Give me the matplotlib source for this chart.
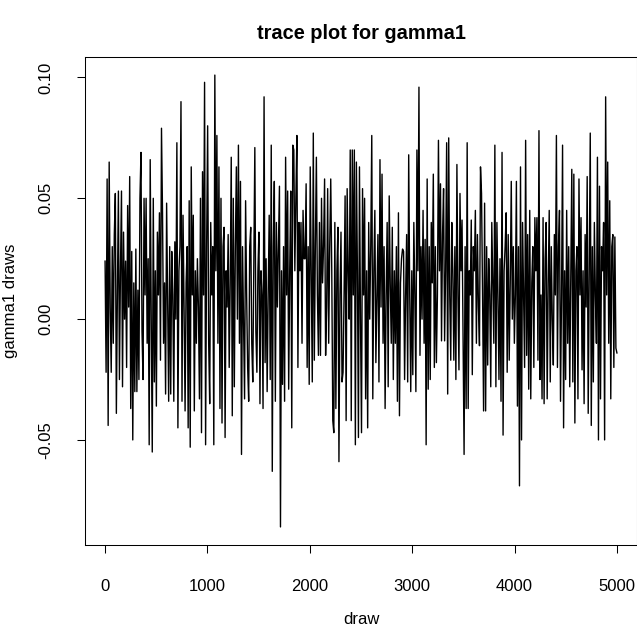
import numpy as np
import matplotlib
matplotlib.use('Agg')
import matplotlib.pyplot as plt

plt.rcParams['font.family'] = ['Liberation Sans', 'DejaVu Sans']

# gamma1 draws, one value per 10 draws (blocks of 100 draws per row)
gamma1 = [
    0.024, -0.022, 0.058, -0.044, 0.065, 0.005, -0.022, 0.030, -0.010, 0.035,
    0.052, -0.039, 0.010, 0.053, -0.025, 0.020, 0.053, -0.028, 0.036, 0.000,
    0.024, -0.020, 0.047, 0.005, 0.059, -0.037, 0.028, -0.050, 0.015, -0.030,
    0.029, -0.030, 0.012, -0.025, 0.050, 0.069, -0.005, -0.025, 0.050, 0.010,
    0.050, -0.010, 0.025, -0.052, 0.066, 0.000, -0.055, 0.050, -0.026, 0.020,
    -0.036, 0.036, 0.010, 0.044, -0.017, 0.079, 0.044, -0.010, 0.015, -0.031,
    0.048, 0.005, -0.034, 0.030, -0.031, 0.028, 0.010, -0.034, 0.032, 0.000,
    0.073, -0.045, 0.020, 0.030, 0.090, -0.034, 0.043, 0.005, -0.038, 0.015,
    0.030, -0.045, 0.049, -0.053, 0.063, 0.010, 0.043, -0.038, 0.020, -0.010,
    0.025, 0.005, -0.033, 0.050, -0.047, 0.061, 0.010, 0.098, -0.052, 0.030,
    0.080, -0.010, -0.035, 0.040, 0.010, 0.030, -0.052, 0.101, 0.020, 0.076,
    -0.010, 0.063, -0.037, 0.050, -0.043, 0.030, 0.038, -0.049, 0.020, 0.005,
    0.035, -0.020, 0.015, 0.067, -0.040, 0.050, -0.028, 0.030, 0.063, 0.000,
    0.072, -0.010, 0.057, -0.056, 0.030, 0.000, -0.033, 0.049, 0.010, -0.020,
    -0.034, 0.030, 0.038, -0.010, -0.026, 0.025, 0.071, -0.005, -0.022, 0.020,
    0.036, -0.035, 0.020, 0.010, -0.037, 0.092, -0.018, 0.025, -0.030, 0.010,
    0.043, -0.025, 0.072, -0.063, 0.030, 0.057, -0.034, 0.040, 0.005, 0.030,
    0.055, -0.086, 0.020, -0.027, 0.030, -0.034, 0.067, 0.010, 0.053, -0.029,
    0.020, 0.053, -0.045, 0.072, 0.070, 0.020, 0.050, 0.076, -0.020, 0.040,
    0.020, 0.040, -0.010, 0.045, 0.025, 0.025, 0.056, -0.020, 0.030, -0.027,
    0.063, 0.020, -0.026, 0.077, -0.017, 0.030, 0.067, 0.010, -0.015, 0.040,
    -0.015, 0.050, 0.015, 0.030, 0.058, -0.015, 0.005, 0.054, -0.010, 0.030,
    0.058, 0.020, -0.042, -0.047, 0.040, -0.037, 0.020, 0.038, -0.059, 0.010,
    0.036, -0.026, -0.022, 0.010, 0.051, -0.042, 0.054, 0.020, 0.000, 0.070,
    -0.042, 0.070, 0.010, 0.070, -0.052, 0.065, 0.020, -0.049, 0.063, 0.000,
    -0.047, 0.054, 0.010, 0.050, -0.033, 0.020, -0.045, 0.040, 0.000, 0.030,
    0.076, -0.033, 0.020, 0.045, -0.018, 0.010, 0.035, -0.026, 0.066, 0.005,
    0.060, -0.010, 0.030, -0.037, 0.010, 0.040, -0.028, 0.051, 0.015, -0.010,
    0.038, -0.025, 0.020, -0.010, 0.030, -0.034, 0.044, -0.040, 0.015, 0.025,
    0.029, 0.028, -0.025, 0.010, 0.035, -0.026, 0.068, 0.010, -0.030, 0.020,
    -0.023, 0.040, 0.010, -0.030, 0.070, 0.020, 0.096, -0.015, 0.030, 0.000,
    0.045, -0.010, 0.033, -0.052, 0.058, -0.029, 0.030, -0.025, 0.040, 0.015,
    0.060, -0.020, 0.030, -0.018, 0.010, 0.074, 0.020, 0.056, -0.009, 0.035,
    0.054, -0.009, 0.020, 0.073, -0.031, 0.075, 0.010, -0.017, 0.040, 0.020,
    -0.017, 0.030, -0.025, 0.064, 0.010, -0.021, 0.052, 0.020, 0.041, -0.010,
    -0.056, 0.030, -0.037, 0.073, -0.037, 0.020, 0.010, 0.041, -0.023, 0.030,
    0.020, 0.045, -0.010, 0.035, 0.005, -0.011, 0.063, 0.052, 0.010, -0.038,
    0.048, -0.038, 0.030, -0.019, 0.025, 0.010, -0.028, 0.040, 0.015, -0.010,
    0.072, -0.028, 0.040, 0.010, -0.025, 0.025, -0.034, 0.069, -0.048, 0.020,
    0.030, 0.044, -0.022, 0.035, -0.017, 0.015, 0.057, 0.000, 0.030, -0.010,
    0.010, 0.057, -0.036, 0.030, -0.069, 0.063, -0.050, 0.040, 0.010, -0.020,
    0.074, -0.015, 0.035, -0.029, 0.045, -0.033, 0.015, 0.030, -0.020, 0.042,
    0.020, 0.042, -0.017, 0.078, -0.025, 0.010, -0.033, 0.042, -0.035, 0.025,
    0.040, -0.033, 0.015, 0.045, -0.026, 0.030, 0.000, -0.019, 0.035, 0.010,
    0.076, -0.020, 0.030, 0.045, -0.034, 0.010, 0.072, -0.045, 0.020, -0.025,
    0.045, -0.010, 0.030, -0.028, 0.015, 0.062, -0.026, 0.060, -0.043, 0.020,
    0.030, -0.033, 0.058, 0.010, 0.042, -0.021, 0.020, -0.035, 0.035, 0.005,
    0.059, -0.039, 0.020, 0.077, -0.044, 0.030, -0.026, 0.040, 0.010, -0.010,
    0.067, -0.050, 0.055, -0.033, 0.030, 0.020, 0.040, -0.050, 0.092, 0.010,
    0.065, -0.010, 0.049, -0.033, 0.030, 0.035, -0.020, 0.034, -0.012, -0.014,
]
n_draws = 5000
draw = np.linspace(1, n_draws, len(gamma1))

x_ticks = [0, 1000, 2000, 3000, 4000, 5000]
y_ticks = [-0.05, 0.00, 0.05, 0.10]
y_tick_labels = ['-0.05', '0.00', '0.05', '0.10']

fig = plt.figure(figsize=(6.37, 6.30), dpi=100)
ax = fig.add_axes([84.6 / 637, 85 / 630, 552.8 / 637, 488 / 630])

ax.plot(draw, gamma1, color='black', linewidth=1.0)
ax.margins(x=0.04, y=0.04)

ax.set_xticks(x_ticks)
ax.set_yticks(y_ticks)
ax.set_yticklabels(y_tick_labels, rotation=90, va='center')
ax.tick_params(direction='out', length=5.8, width=0.75, labelsize=12, color='black')
ax.tick_params(axis='x', pad=19)
ax.tick_params(axis='y', pad=17)
for s in ax.spines.values():
    s.set_linewidth(0.75)

ax.set_title('trace plot for gamma1', fontsize=14.4, fontweight='bold',
             y=1.048, pad=0, va='center')
ax.set_xlabel('draw', fontsize=12)
ax.set_ylabel('gamma1 draws', fontsize=12)
ax.xaxis.set_label_coords(0.5, -(620 - 545) / 488)
ax.xaxis.label.set_va('center')
ax.yaxis.set_label_coords(-(84.6 - 10) / 552.8, 0.5)
ax.yaxis.label.set_va('center')

fig.savefig('out.png', dpi=100)
